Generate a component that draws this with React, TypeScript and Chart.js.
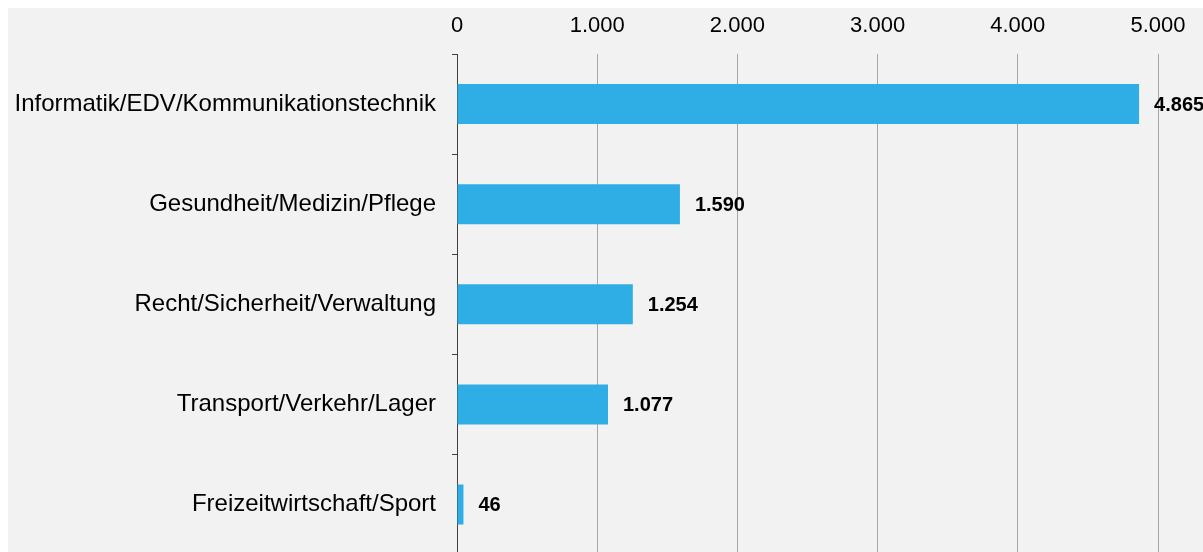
import React, { useEffect, useRef } from "react";
import { Chart, registerables } from "chart.js";

Chart.register(...registerables);

const categories = [
  "Informatik/EDV/Kommunikationstechnik",
  "Gesundheit/Medizin/Pflege",
  "Recht/Sicherheit/Verwaltung",
  "Transport/Verkehr/Lager",
  "Freizeitwirtschaft/Sport",
];
const values = [4865, 1590, 1254, 1077, 46];
const tickValues = [0, 1000, 2000, 3000, 4000, 5000];

const FONT = "'Liberation Sans', Arial, sans-serif";
const BAR_COLOR = "#2eaee5";

const fmt = (v: number) => String(Math.round(v)).replace(/\B(?=(\d{3})+(?!\d))/g, ".");

const valueLabels = {
  id: "valueLabels",
  afterDatasetsDraw(chart: any) {
    const ctx = chart.ctx;
    const meta = chart.getDatasetMeta(0);
    ctx.save();
    ctx.font = `bold 20px ${FONT}`;
    ctx.fillStyle = "#000000";
    ctx.textAlign = "left";
    ctx.textBaseline = "middle";
    meta.data.forEach((el: any, i: number) => {
      ctx.fillText(fmt(values[i]), el.x + 15, el.y + 1);
    });
    ctx.restore();
  },
};

export default function App() {
  const ref = useRef<HTMLCanvasElement>(null);
  useEffect(() => {
    if (!ref.current) return;
    const chart = new Chart(ref.current, {
      type: "bar",
      data: {
        labels: categories,
        datasets: [
          {
            data: values,
            backgroundColor: BAR_COLOR,
            borderWidth: 0,
            barPercentage: 1,
            categoryPercentage: 0.4,
          },
        ],
      },
      options: {
        indexAxis: "y",
        responsive: false,
        animation: false,
        layout: { padding: { left: 0, top: 0, right: 90, bottom: 14 } },
        plugins: {
          legend: { display: false },
          tooltip: { enabled: false },
        },
        scales: {
          x: {
            position: "top",
            min: 0,
            max: 5000,
            afterBuildTicks: (scale: any) => {
              scale.ticks = tickValues.map((v) => ({ value: v }));
            },
            afterFit: (scale: any) => {
              scale.height = 46;
            },
            ticks: {
              padding: 15,
              color: "#000000",
              font: { family: FONT, size: 22 },
              callback: (v: any) => fmt(Number(v)),
            },
            grid: {
              color: "#a6a6a6",
              lineWidth: 1,
              drawTicks: false,
            },
            border: { display: false },
          },
          y: {
            afterFit: (scale: any) => {
              scale.width = 449;
            },
            ticks: {
              padding: 16,
              color: "#000000",
              font: { family: FONT, size: 24 },
            },
            grid: {
              drawOnChartArea: false,
              drawTicks: true,
              tickLength: 5,
              offset: true,
              color: "#404040",
            },
            border: { display: true, color: "#404040", width: 1 },
          },
        },
      },
      plugins: [valueLabels],
    } as any);
    return () => chart.destroy();
  }, []);

  return (
    <div
      style={{
        position: "fixed",
        left: 8,
        top: 8,
        right: 0,
        bottom: 0,
        overflow: "hidden",
        background: "#f2f2f2",
      }}
    >
      <canvas ref={ref} width={1240} height={577} style={{ display: "block" }} />
    </div>
  );
}
